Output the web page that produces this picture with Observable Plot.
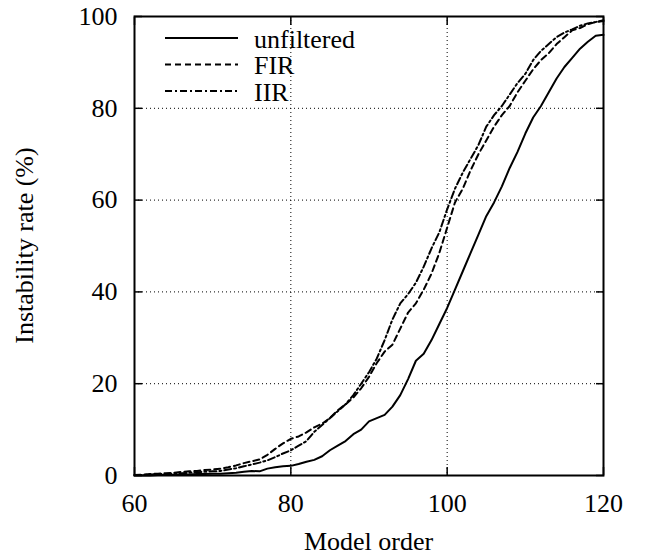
<!DOCTYPE html>
<html>
<head>
<meta charset="utf-8">
<script src="https://cdn.jsdelivr.net/npm/d3@7"></script>
<script src="https://cdn.jsdelivr.net/npm/@observablehq/plot@0.6"></script>
<style>
  html, body { margin: 0; padding: 0; background: #fff; }
  #chart svg { display: block; }
  #chart svg, #chart svg text { font-family: "Liberation Serif", "DejaVu Serif", serif !important; }
</style>
</head>
<body>
<div id="chart"></div>
<script>
const modelOrder = [60,61,62,63,64,65,66,67,68,69,70,71,72,73,74,75,76,77,78,79,80,81,82,83,84,85,86,87,88,89,90,91,92,93,94,95,96,97,98,99,100,101,102,103,104,105,106,107,108,109,110,111,112,113,114,115,116,117,118,119,120];

const unfiltered = [0,0,0,0.1,0.1,0.1,0.2,0.2,0.3,0.3,0.4,0.4,0.5,0.6,0.8,1.0,0.9,1.5,1.8,2.0,2.1,2.5,3.0,3.4,4.2,5.5,6.5,7.5,9.0,10.0,11.8,12.5,13.2,15.0,17.5,21.0,25.0,26.5,29.5,33,36.5,40.5,44.5,48.5,52.5,56.5,59.5,63,67,70.5,74.5,78,80.5,83.5,86.5,89,91,93,94.5,95.8,96];

const fir = [0.1,0.2,0.3,0.4,0.5,0.6,0.8,0.9,1.0,1.2,1.3,1.5,1.8,2.2,2.7,3.1,3.5,4.5,5.8,7.0,8.0,8.5,9.4,10.5,11.3,12.5,14.2,15.5,17.0,19.0,21.5,24.5,27,28.5,32,35.5,37.5,40.5,44,48.5,54,59.5,62.5,66.5,70,73,76,78.5,80.5,83.5,86,88.5,90.5,92,94,95.5,97,97.5,98.3,98.8,99];

const iir = [0.1,0.1,0.2,0.3,0.3,0.4,0.5,0.6,0.7,0.8,0.9,1.0,1.3,1.6,2.0,2.4,2.8,3.3,4.0,4.8,5.5,6.5,7.5,9.5,11.0,12.5,14,15.5,17.5,20,22.5,25.5,29.5,34,37.5,39.5,42,45.5,49.5,53,58,62.5,66,69,72,76,78.5,80.5,83,85.5,87.5,90.5,92.5,94,95.5,96.5,97.2,98,98.5,98.8,99.2];

const seriesNames = ["unfiltered", "FIR", "IIR"];
const seriesDash = ["none", "6,4", "7,3,2,3"];
const xTicks = [60, 80, 100, 120];
const yTicks = [0, 20, 40, 60, 80, 100];
const xGrid = [80, 100];
const yGrid = [20, 40, 60, 80];
const xLabel = "Model order";
const yLabel = "Instability rate (%)";

const seriesValues = [unfiltered, fir, iir];
const data = seriesNames.flatMap((name, i) =>
  modelOrder.map((x, j) => ({x, y: seriesValues[i][j], series: name}))
);

const W = 649, H = 556;
const mL = 134, mR = 46, mT = 16, mB = 81;
const font = "Liberation Serif";

const lineMarks = seriesNames.map((name, i) =>
  Plot.line(data.filter(d => d.series === name), {
    x: "x", y: "y", stroke: "black", strokeWidth: 2,
    strokeDasharray: seriesDash[i], strokeLinejoin: "round"
  })
);

const blank = () => "";

const chart = Plot.plot({
  width: W, height: H,
  marginLeft: mL, marginRight: mR, marginTop: mT, marginBottom: mB,
  style: {fontFamily: font, fontSize: "26px", background: "white", color: "black"},
  x: {domain: [60, 120]},
  y: {domain: [0, 100]},
  marks: [
    Plot.gridX(xGrid, {stroke: "black", strokeOpacity: 1, strokeWidth: 1, strokeDasharray: "1,3"}),
    Plot.gridY(yGrid, {stroke: "black", strokeOpacity: 1, strokeWidth: 1, strokeDasharray: "1,3"}),
    ...lineMarks,
    Plot.axisX(xTicks, {anchor: "bottom", tickSize: 0, tickPadding: 18, label: null, fontSize: 26}),
    Plot.axisX(xTicks, {anchor: "bottom", tickSize: 8, dy: -8, tickFormat: blank, label: null, strokeWidth: 1.5}),
    Plot.axisX(xTicks, {anchor: "top", tickSize: 8, dy: 8, tickFormat: blank, label: null, strokeWidth: 1.5}),
    Plot.axisY(yTicks, {anchor: "left", tickSize: 0, tickPadding: 17, label: null, fontSize: 26}),
    Plot.axisY(yTicks, {anchor: "left", tickSize: 8, dx: 8, tickFormat: blank, label: null, strokeWidth: 1.5}),
    Plot.axisY(yTicks, {anchor: "right", tickSize: 8, dx: -8, tickFormat: blank, label: null, strokeWidth: 1.5}),
    Plot.frame({stroke: "black", strokeWidth: 2})
  ]
});

document.getElementById("chart").appendChild(chart);

// Axis titles and legend
const svg = d3.select(chart);
svg.append("text")
  .attr("x", (mL + W - mR) / 2).attr("y", 550)
  .attr("text-anchor", "middle")
  .attr("font-size", 26).attr("fill", "black")
  .text(xLabel);
svg.append("text")
  .attr("transform", `translate(33,${(mT + H - mB) / 2}) rotate(-90)`)
  .attr("text-anchor", "middle")
  .attr("font-size", 26).attr("fill", "black")
  .text(yLabel);

const legend = svg.append("g");
seriesNames.forEach((name, i) => {
  const ly = 38 + i * 26.5;
  legend.append("line")
    .attr("x1", 165).attr("x2", 238).attr("y1", ly).attr("y2", ly)
    .attr("stroke", "black").attr("stroke-width", 2)
    .attr("stroke-dasharray", seriesDash[i]);
  legend.append("text")
    .attr("x", 254).attr("y", ly + 9.5)
    .attr("text-anchor", "start")
    .attr("font-size", 26).attr("fill", "black")
    .text(name);
});
</script>
</body>
</html>
